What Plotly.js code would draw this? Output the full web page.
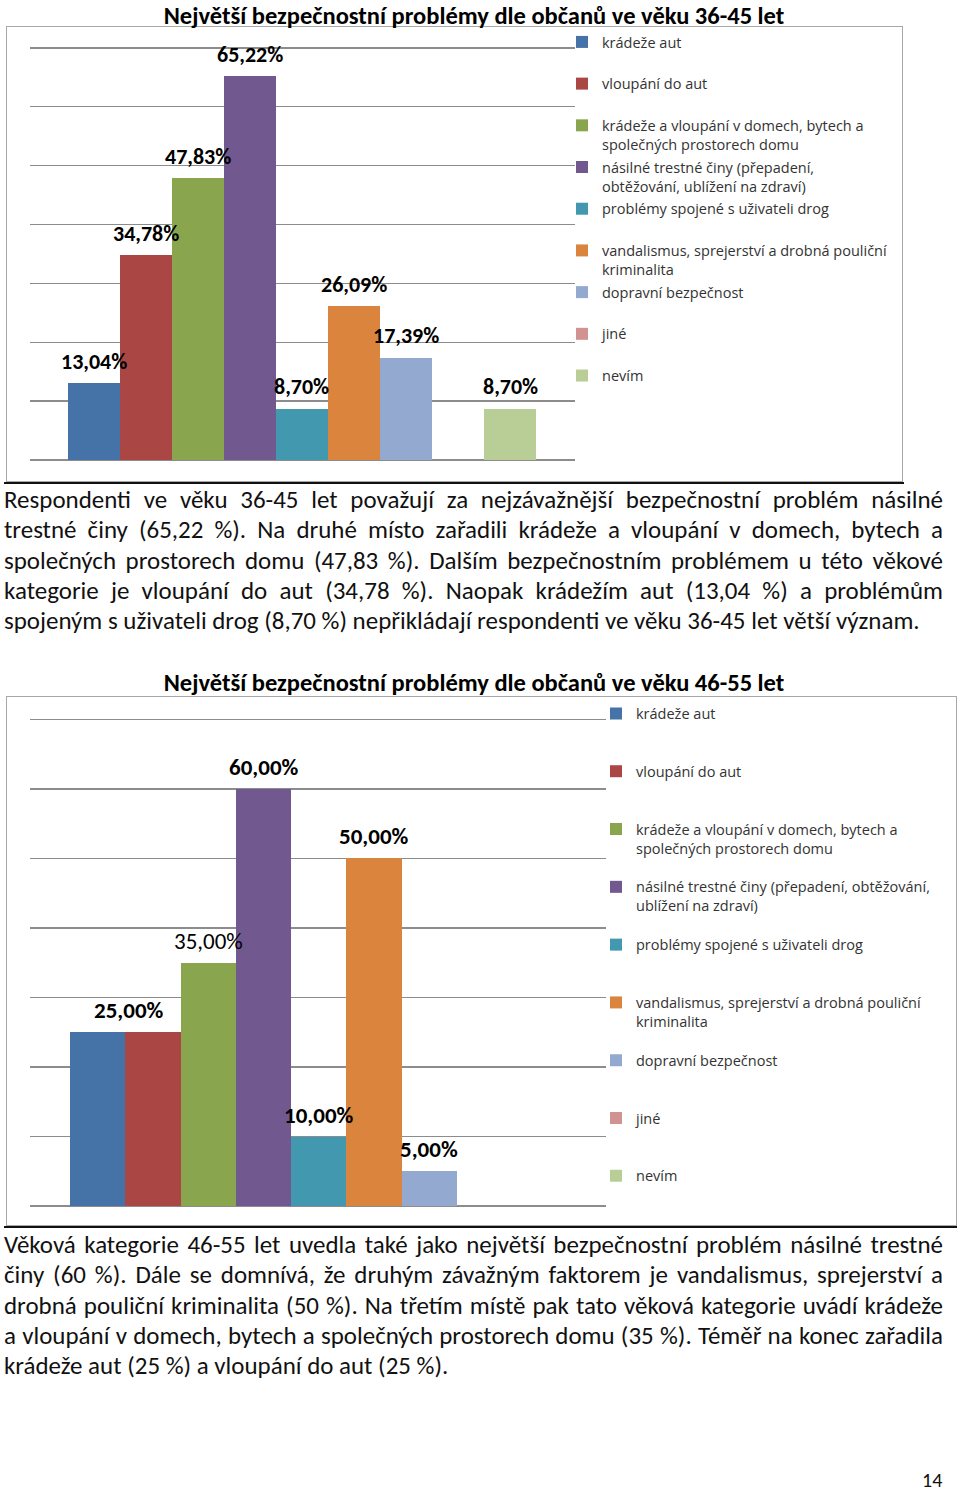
<!DOCTYPE html>
<html>
<head>
<meta charset="utf-8">
<script src="https://cdn.plot.ly/plotly-3.0.1.min.js"></script>
<style>
  html, body { margin: 0; padding: 0; background: #fff; }
  body { width: 960px; height: 1490px; position: relative; overflow: hidden;
         font-family: Carlito, Calibri, Lato, "Open Sans", sans-serif; color: #111; }
  .chart { position: absolute; left: 0; width: 960px; }
  .frame { position: absolute; border: 1.5px solid #a8a8a8; box-sizing: border-box; pointer-events: none; }
  .rule { position: absolute; height: 2px; background: #111; }
  .para { position: absolute; left: 4px; width: 939px; }
  .para div { height: 30.3px; line-height: 30.3px; white-space: nowrap;
              text-align: justify; text-align-last: justify; }
  .para div.last { text-align: left; text-align-last: left; }
  .pg { position: absolute; left: 922px; top: 1468px; font-size: 20px; line-height: 24px; }
</style>
</head>
<body>
<div class="frame" style="left:6px;top:26px;width:897px;height:456px;"></div>
<div id="c1" class="chart" style="top:0px;height:490px;"></div>
<div class="rule" style="left:4px;top:482px;width:900px;"></div>

<div class="para" id="p1" style="top:485px;">
  <div>Respondenti ve věku 36-45 let považují za nejzávažnější bezpečnostní problém násilné</div>
  <div>trestné činy (65,22 %). Na druhé místo zařadili krádeže a vloupání v domech, bytech a</div>
  <div>společných prostorech domu (47,83 %). Dalším bezpečnostním problémem u této věkové</div>
  <div>kategorie je vloupání do aut (34,78 %). Naopak krádežím aut (13,04 %) a problémům</div>
  <div class="last" id="ref">spojeným s uživateli drog (8,70 %) nepřikládají respondenti ve věku 36-45 let větší význam.</div>
</div>

<div class="frame" style="left:6px;top:696px;width:951px;height:530px;"></div>
<div id="c2" class="chart" style="top:660px;height:580px;"></div>
<div class="rule" style="left:4px;top:1226px;width:953px;"></div>

<div class="para" id="p2" style="top:1230px;">
  <div>Věková kategorie 46-55 let uvedla také jako největší bezpečnostní problém násilné trestné</div>
  <div>činy (60 %). Dále se domnívá, že druhým závažným faktorem je vandalismus, sprejerství a</div>
  <div>drobná pouliční kriminalita (50 %). Na třetím místě pak tato věková kategorie uvádí krádeže</div>
  <div>a vloupání v domech, bytech a společných prostorech domu (35 %). Téměř na konec zařadila</div>
  <div class="last">krádeže aut (25 %) a vloupání do aut (25 %).</div>
</div>

<div class="pg">14</div>

<script>
// ---------------- DATA ----------------
const categories = [
  'krádeže aut',
  'vloupání do aut',
  'krádeže a vloupání v domech, bytech a společných prostorech domu',
  'násilné trestné činy (přepadení, obtěžování, ublížení na zdraví)',
  'problémy spojené s uživateli drog',
  'vandalismus, sprejerství a drobná pouliční kriminalita',
  'dopravní bezpečnost',
  'jiné',
  'nevím'
];
const legendLabels1 = [
  'krádeže aut',
  'vloupání do aut',
  'krádeže a vloupání v domech, bytech a<br>společných prostorech domu',
  'násilné trestné činy (přepadení,<br>obtěžování, ublížení na zdraví)',
  'problémy spojené s uživateli drog',
  'vandalismus, sprejerství a drobná pouliční<br>kriminalita',
  'dopravní bezpečnost',
  'jiné',
  'nevím'
];
const legendLabels2 = [
  'krádeže aut',
  'vloupání do aut',
  'krádeže a vloupání v domech, bytech a<br>společných prostorech domu',
  'násilné trestné činy (přepadení, obtěžování,<br>ublížení na zdraví)',
  'problémy spojené s uživateli drog',
  'vandalismus, sprejerství a drobná pouliční<br>kriminalita',
  'dopravní bezpečnost',
  'jiné',
  'nevím'
];
const values3645 = [13.04, 34.78, 47.83, 65.22, 8.70, 26.09, 17.39, null, 8.70];
const values4655 = [25.00, 25.00, 35.00, 60.00, 10.00, 50.00, 5.00, null, null];
const title3645 = 'Největší bezpečnostní problémy dle občanů ve věku 36-45 let';
const title4655 = 'Největší bezpečnostní problémy dle občanů ve věku 46-55 let';
const gridValues = [0, 10, 20, 30, 40, 50, 60, 70];

// ---------------- STYLE ----------------
const FONT = 'Carlito, Calibri, Lato, "Open Sans", sans-serif';
const LEGFONT = '"Open Sans", Lato, sans-serif';
const colors = ['#4572A7', '#AA4643', '#89A54E', '#71588F', '#4198AF',
                '#DB843D', '#93A9CF', '#D19392', '#B9CD96'];

function fmt(v) { return v.toFixed(2).replace('.', ',') + '%'; }

function build(div, vals, labels, o) {
  const traces = vals.map((v, i) => ({
    type: 'bar',
    x: [categories[i]],
    y: [v],
    name: (labels[i].indexOf('<br>') < 0) ? labels[i] + '<br> ' : labels[i],
    legendgroup: 'g' + i,
    marker: { color: colors[i], line: { width: 0 } },
    hoverinfo: 'skip'
  }));
  const annotations = [];
  vals.forEach((v, i) => {
    if (v == null) return;
    const lo = (o.labelOpts && o.labelOpts[i]) || {};
    if (lo.hide) return;
    const txt = fmt(v);
    annotations.push({
      x: i + (lo.dx || 0), y: v, xref: 'x', yref: 'y',
      text: lo.regular ? txt : '<b>' + txt + '</b>',
      showarrow: false, yanchor: 'middle', yshift: o.labelShift,
      font: { family: FONT, size: o.labelSize, color: '#000' }
    });
  });
  const layout = {
    width: 960, height: o.h,
    margin: { l: o.l, r: 960 - o.r, t: o.t, b: o.h - o.b, pad: 0, autoexpand: false },
    paper_bgcolor: 'rgba(0,0,0,0)', plot_bgcolor: 'rgba(0,0,0,0)',
    barmode: 'overlay', bargap: 0,
    font: { family: FONT, color: '#333' },
    title: {
      text: '<b>' + o.title + '</b>',
      x: 474 / 960, xref: 'container', xanchor: 'center',
      y: 1 - o.titleY / o.h, yref: 'container', yanchor: 'middle',
      font: { family: FONT, size: 24.5, color: '#000' }
    },
    xaxis: {
      type: 'category', categoryorder: 'array', categoryarray: categories,
      range: o.xr, showticklabels: false, showgrid: false, zeroline: false,
      ticks: '', showline: false, fixedrange: true
    },
    yaxis: {
      range: [0, o.ymax], tickvals: gridValues, showticklabels: false, ticks: '',
      showgrid: true, gridcolor: '#8c8c8c', gridwidth: 1.3,
      zeroline: true, zerolinecolor: '#8c8c8c', zerolinewidth: 1.3,
      showline: false, fixedrange: true
    },
    legend: {
      x: o.legX / 960, xref: 'container', xanchor: 'left',
      y: 1 - o.legY / o.h, yref: 'container', yanchor: 'top',
      valign: 'top', traceorder: 'grouped', tracegroupgap: o.gap,
      maxheight: 2000,
      font: { family: LEGFONT, size: 14.5, color: '#333' },
      bgcolor: 'rgba(0,0,0,0)', borderwidth: 0, itemclick: false, itemdoubleclick: false
    },
    showlegend: true,
    annotations: annotations
  };
  Plotly.newPlot(div, traces, layout, { staticPlot: true, displayModeBar: false });
}

// plot area (px within each chart div): left l, right r, top t, baseline b
build('c1', values3645, legendLabels1, {
  h: 490, l: 30, r: 575, t: 45, b: 460.5, ymax: 70.5, xr: [-1.23, 9.25],
  title: title3645, titleY: 15.5, legX: 562, legY: 26, gap: 1.0,
  labelSize: 22, labelShift: 22
});
build('c2', values4655, legendLabels2, {
  h: 580, l: 30, r: 606, t: 55.5, b: 546, ymax: 70.5, xr: [-1.223, 9.193],
  title: title4655, titleY: 22.5, legX: 596, legY: 37.5, gap: 17.1,
  labelSize: 23, labelShift: 22,
  labelOpts: { 0: { dx: 0.57 }, 1: { hide: true }, 2: { regular: true } }
});

// ------------- fit paragraph font so line breaks match -------------
(function () {
  const lines = Array.from(document.querySelectorAll('.para div'));
  const base = 21;
  lines.forEach(d => d.style.fontSize = base + 'px');
  const span = document.createElement('span');
  span.style.whiteSpace = 'nowrap';
  span.style.fontSize = base + 'px';
  span.style.position = 'absolute';
  span.style.visibility = 'hidden';
  document.body.appendChild(span);
  let scale = Infinity;
  lines.forEach(d => {
    span.textContent = d.textContent;
    const w = span.getBoundingClientRect().width;
    if (d.id === 'ref') scale = Math.min(scale, 916 / w);
    else scale = Math.min(scale, 937 / w);
  });
  document.body.removeChild(span);
  lines.forEach(d => d.style.fontSize = (base * scale).toFixed(2) + 'px');
})();
</script>
</body>
</html>
